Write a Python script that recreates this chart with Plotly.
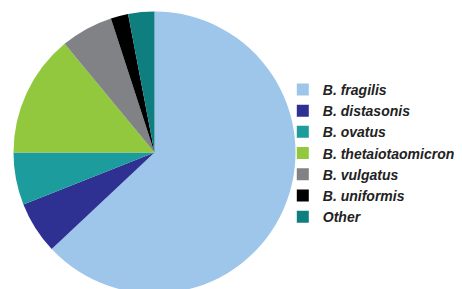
import plotly.graph_objects as go

species = ["B. fragilis", "B. distasonis", "B. ovatus", "B. thetaiotaomicron",
           "B. vulgatus", "B. uniformis", "Other"]
percent = [63, 6, 6, 14, 6, 2, 3]
colors = ["#9DC6EA", "#2E3192", "#1C9C9C", "#92C83E", "#808285", "#000000", "#0E7E7E"]

fig = go.Figure(go.Pie(
    labels=species, values=percent, sort=False, direction="clockwise", rotation=0,
    marker=dict(colors=colors, line=dict(width=0)),
    textinfo="none", hoverinfo="label+percent",
    domain=dict(x=[0.0119, 0.6223], y=[0.0121, 0.9879]),
))
fig.update_layout(
    width=462, height=289,
    margin=dict(l=0, r=0, t=0, b=0, autoexpand=False),
    paper_bgcolor="white",
    showlegend=True,
    legend=dict(x=0.5948, y=0.497, yanchor="middle", xanchor="left",
                font=dict(family="Liberation Sans", size=14, color="#222222",
                          style="italic", weight="bold"),
                bgcolor="rgba(0,0,0,0)", borderwidth=0),
)
fig.write_html("out.html")
